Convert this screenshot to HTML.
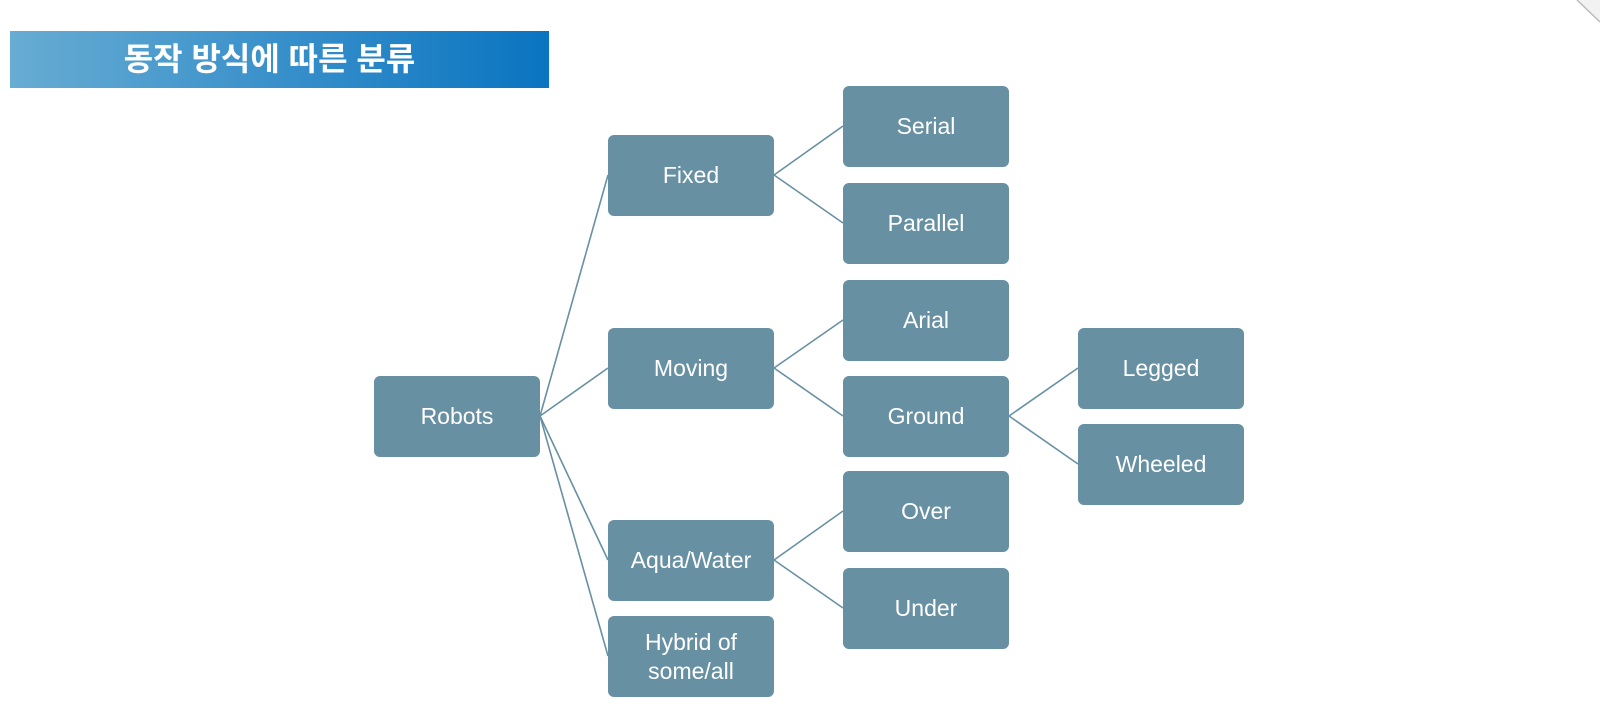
<!DOCTYPE html>
<html><head><meta charset="utf-8"><style>
body{margin:0;width:1600px;height:722px;background:#fff;position:relative;overflow:hidden;font-family:"Liberation Sans","Noto Sans CJK KR",sans-serif}
.hd{position:absolute;left:10px;top:31px;width:539px;height:57px;background:linear-gradient(90deg,#67acd3,#0a74c1);color:#fff;font-weight:bold;font-size:32px;line-height:57px;text-align:center;padding-right:20px;box-sizing:border-box}
.b{position:absolute;width:166px;height:81px;background:#6890a3;border-radius:6px;color:#fff;font-size:23px;display:flex;align-items:center;justify-content:center;text-align:center;line-height:29px}
svg{position:absolute;left:0;top:0}
</style></head><body>
<div class="hd">동작 방식에 따른 분류</div>
<svg width="1600" height="722">
<polygon points="1577,0 1600,0 1600,22" fill="#f2f2f2"/>
<line x1="1577" y1="0" x2="1600" y2="22" stroke="#bbb" stroke-width="1.5"/>
<g stroke="#6890a3" stroke-width="1.6" fill="none">
<line x1="540" y1="416" x2="608" y2="175"/>
<line x1="540" y1="416" x2="608" y2="368"/>
<line x1="540" y1="416" x2="608" y2="560"/>
<line x1="540" y1="416" x2="608" y2="656"/>
<line x1="774" y1="175" x2="843" y2="126"/>
<line x1="774" y1="175" x2="843" y2="223"/>
<line x1="774" y1="368" x2="843" y2="320"/>
<line x1="774" y1="368" x2="843" y2="416"/>
<line x1="774" y1="560" x2="843" y2="511"/>
<line x1="774" y1="560" x2="843" y2="608"/>
<line x1="1009" y1="416" x2="1078" y2="368"/>
<line x1="1009" y1="416" x2="1078" y2="464"/>
</g></svg>
<div class="b" style="left:374px;top:376px">Robots</div>
<div class="b" style="left:608px;top:135px">Fixed</div>
<div class="b" style="left:608px;top:328px">Moving</div>
<div class="b" style="left:608px;top:520px">Aqua/Water</div>
<div class="b" style="left:608px;top:616px">Hybrid of<br>some/all</div>
<div class="b" style="left:843px;top:86px">Serial</div>
<div class="b" style="left:843px;top:183px">Parallel</div>
<div class="b" style="left:843px;top:280px">Arial</div>
<div class="b" style="left:843px;top:376px">Ground</div>
<div class="b" style="left:843px;top:471px">Over</div>
<div class="b" style="left:843px;top:568px">Under</div>
<div class="b" style="left:1078px;top:328px">Legged</div>
<div class="b" style="left:1078px;top:424px">Wheeled</div>
</body></html>
